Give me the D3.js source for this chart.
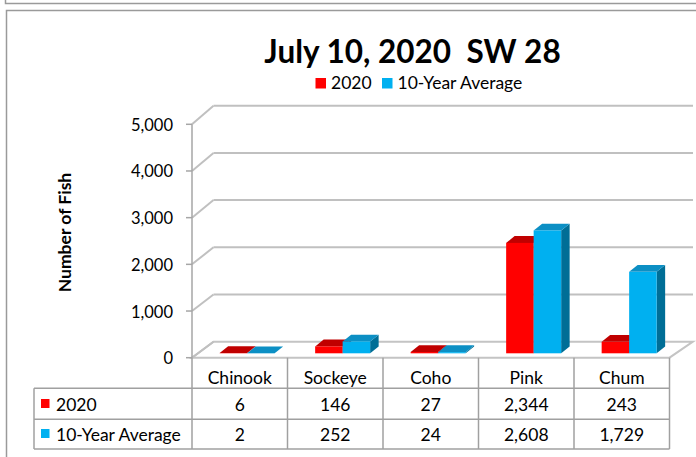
<!DOCTYPE html>
<html>
<head>
<meta charset="utf-8">
<script src="https://cdn.jsdelivr.net/npm/d3@7"></script>
<style>
  body { margin: 0; background: #fff; }
  svg { display: block; font-family: Lato, "Open Sans", sans-serif; }
</style>
</head>
<body>
<script>
// chart data
var categories = ["Chinook", "Sockeye", "Coho", "Pink", "Chum"];
var seriesNames = ["2020", "10-Year Average"];
var values2020 = [6, 146, 27, 2344, 243];
var valuesAvg = [2, 252, 24, 2608, 1729];
var yTicks = [0, 1000, 2000, 3000, 4000, 5000];
var colors = ["#ff0000", "#00b0f0"];
var topColors = ["#c00000", "#0c8fc4"];
var sideColors = ["#a00000", "#006e96"];

const w = 696, h = 457;
const fs = 17.5;

var svg = d3.select("body").append("svg")
  .attr("width", w)
  .attr("height", h);

// frames
svg.append("rect").attr("x", 5.5).attr("y", -10).attr("width", 720).attr("height", 13.5)
  .attr("fill", "none").attr("stroke", "#9a9a9a").attr("stroke-width", 1.5);
svg.append("rect").attr("x", 6.5).attr("y", 10.5).attr("width", 720).attr("height", 470)
  .attr("fill", "none").attr("stroke", "#9a9a9a").attr("stroke-width", 1.5);

// scales
var x = d3.scaleBand().domain(categories).range([192, 669.5]);
var yFront = d3.scaleLinear().domain([0, 5000]).range([357.7, 124.3]);
var yBack = d3.scaleLinear().domain([0, 5000]).range([341.7, 105.7]);
var yBar = d3.scaleLinear().domain([0, 5000]).range([353.3, 117.8]);
var backLeft = 213.5, backRight = 693;
var sub = d3.scaleBand().domain(seriesNames).range([0, 55]);
const barShift = 7.4;
const depthX = 8.5, depthY = -6.8;

// floor
var floorPts = [[192, yFront(0)], [669.5, yFront(0)], [backRight, yBack(0)], [backLeft, yBack(0)]];
svg.append("polygon")
  .attr("points", floorPts.map(p => p.join(",")).join(" "))
  .attr("fill", "#fff").attr("stroke", "#c4c4c4").attr("stroke-width", 2);

// gridlines on back wall and left wall
var grid = svg.append("g").attr("stroke", "#c0c0c0").attr("stroke-width", 2).attr("fill", "none");
yTicks.forEach(function (t) {
  if (t > 0) {
    grid.append("line").attr("x1", backLeft).attr("x2", backRight)
      .attr("y1", yBack(t)).attr("y2", yBack(t));
  }
  grid.append("line").attr("x1", 192).attr("x2", backLeft)
    .attr("y1", yFront(t)).attr("y2", yBack(t));
});

// y axis line and ticks
svg.append("line").attr("x1", 192).attr("x2", 192)
  .attr("y1", yFront(5000)).attr("y2", yFront(0))
  .attr("stroke", "#a6a6a6").attr("stroke-width", 1.5);
svg.selectAll(".ytick").data(yTicks).enter().append("line")
  .attr("x1", 186).attr("x2", 192)
  .attr("y1", d => yFront(d)).attr("y2", d => yFront(d))
  .attr("stroke", "#a6a6a6").attr("stroke-width", 1.5);
svg.selectAll(".ylab").data(yTicks).enter().append("text")
  .attr("x", 173).attr("y", d => yFront(d) + 6.5)
  .attr("text-anchor", "end")
  .attr("font-size", 16.5)
  .attr("fill", "#000")
  .text(d => d3.format(",")(d));

svg.append("text")
  .attr("transform", "translate(71,232.5) rotate(-90)")
  .attr("text-anchor", "middle")
  .attr("font-size", 17.5)
  .attr("font-weight", "bold")
  .text("Number of Fish");

// bars
var allValues = [values2020, valuesAvg];
var bars = svg.append("g");
categories.forEach(function (c, i) {
  seriesNames.forEach(function (s, k) {
    var v = allValues[k][i];
    var x0 = x(c) + x.bandwidth() / 2 + barShift - 27.5 + sub(s);
    var x1 = x0 + sub.bandwidth();
    var yTop = yBar(v), yBot = yBar(0);
    // side
    bars.append("polygon")
      .attr("points", [[x1, yTop], [x1 + depthX, yTop + depthY], [x1 + depthX, yBot + depthY], [x1, yBot]].join(" "))
      .attr("fill", sideColors[k]);
    // top
    bars.append("polygon")
      .attr("points", [[x0, yTop], [x1, yTop], [x1 + depthX, yTop + depthY], [x0 + depthX, yTop + depthY]].join(" "))
      .attr("fill", topColors[k]);
    // front
    bars.append("rect")
      .attr("x", x0).attr("y", yTop)
      .attr("width", x1 - x0).attr("height", yBot - yTop)
      .attr("fill", colors[k]);
  });
});

// title
svg.append("text")
  .attr("x", 412.5).attr("y", 62.5)
  .attr("text-anchor", "middle")
  .attr("font-size", 31.5)
  .attr("font-weight", "bold")
  .style("white-space", "pre")
  .text("July 10, 2020  SW 28");

// legend
var legendX = [315.5, 382];
seriesNames.forEach(function (s, k) {
  svg.append("rect").attr("x", legendX[k]).attr("y", 78)
    .attr("width", 10.5).attr("height", 10.5).attr("fill", colors[k]);
  svg.append("text").attr("x", legendX[k] + 15.5).attr("y", 88.5)
    .attr("font-size", fs).text(s);
});

// data table
var tableTop = 357.7, rowLines = [388.3, 419.3, 449];
var tbl = svg.append("g").attr("stroke", "#a0a0a0").attr("stroke-width", 1.5);
rowLines.forEach(function (yy) {
  tbl.append("line").attr("x1", 34).attr("x2", 669.5).attr("y1", yy).attr("y2", yy);
});
tbl.append("line").attr("x1", 34).attr("x2", 34).attr("y1", rowLines[0]).attr("y2", rowLines[2]);
categories.forEach(function (c) {
  tbl.append("line").attr("x1", x(c)).attr("x2", x(c)).attr("y1", tableTop).attr("y2", rowLines[2]);
});
tbl.append("line").attr("x1", 669.5).attr("x2", 669.5).attr("y1", tableTop).attr("y2", rowLines[2]);

svg.selectAll(".hdr").data(categories).enter().append("text")
  .attr("x", d => x(d) + x.bandwidth() / 2).attr("y", 383.5)
  .attr("text-anchor", "middle").attr("font-size", fs)
  .text(d => d);

var rowBase = [410.5, 440.5];
seriesNames.forEach(function (s, k) {
  svg.append("rect").attr("x", 41).attr("y", rowBase[k] - 11.5)
    .attr("width", 8.5).attr("height", 9).attr("fill", colors[k]);
  svg.append("text").attr("x", 56).attr("y", rowBase[k])
    .attr("font-size", fs).text(s);
  categories.forEach(function (c, i) {
    svg.append("text")
      .attr("x", x(c) + x.bandwidth() / 2).attr("y", rowBase[k])
      .attr("text-anchor", "middle").attr("font-size", fs)
      .text(d3.format(",")(allValues[k][i]));
  });
});
</script>
</body>
</html>
